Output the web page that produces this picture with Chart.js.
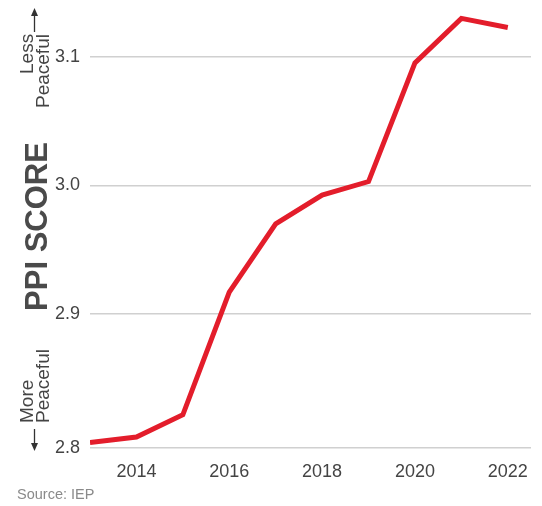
<!DOCTYPE html>
<html>
<head>
<meta charset="utf-8">
<script src="https://cdn.jsdelivr.net/npm/chart.js@4/dist/chart.umd.min.js"></script>
<style>
  html, body { margin: 0; padding: 0; background: #fff; }
  body { width: 542px; height: 506px; position: relative; overflow: hidden;
         font-family: "Liberation Sans", Arial, sans-serif; }
  #wrap { position: absolute; left: 0; top: 0; width: 542px; height: 506px; }
  .side { position: absolute; left: 19px; width: 31px; font-size: 19px; line-height: 15.5px;
          color: #444; writing-mode: vertical-rl; transform: rotate(180deg); white-space: nowrap; }
  #less { top: 34px; height: 95px; text-align: end; }
  #more { top: 328px; height: 95px; text-align: start; }
  #source { position: absolute; left: 17px; top: 486px; font-size: 14.5px; color: #8a8a8a; }
  #arrows { position: absolute; left: 0; top: 0; }
</style>
</head>
<body>
<div id="wrap"><canvas id="chart" width="542" height="506"></canvas></div>
<div class="side" id="less">Less<br>Peaceful</div>
<div class="side" id="more">More<br>Peaceful</div>
<svg id="arrows" width="60" height="506">
  <line x1="34.5" y1="32" x2="34.5" y2="14" stroke="#333" stroke-width="1.3"/>
  <polygon points="34.5,8 31,16 38,16" fill="#333"/>
  <line x1="34.5" y1="429" x2="34.5" y2="445" stroke="#333" stroke-width="1.3"/>
  <polygon points="34.5,451 31,443 38,443" fill="#333"/>
</svg>
<div id="source">Source: IEP</div>
<script>
// PPI score by year
var years = [2013, 2014, 2015, 2016, 2017, 2018, 2019, 2020, 2021, 2022];
var ppiScore = [2.7995, 2.8037, 2.8211, 2.9168, 2.9700, 2.9925, 3.0030, 3.0955, 3.1303, 3.1232];
var yTickValues = [2.9, 3.0, 3.1];
var xTickYears = [2014, 2016, 2018, 2020, 2022];

var Y_MIN = 2.7952, Y_MAX = 3.1407;

var points = years.map(function (yr, i) { return { x: yr, y: ppiScore[i] }; });

var ctx = document.getElementById('chart').getContext('2d');
var chart = new Chart(ctx, {
    type: 'line',
    data: {
        datasets: [{
            data: points,
            borderColor: '#e31d2b',
            borderWidth: 5,
            pointRadius: 0,
            tension: 0,
            fill: false,
            borderJoinStyle: 'miter',
            borderCapStyle: 'butt'
        }]
    },
    options: {
        responsive: false,
        animation: false,
        devicePixelRatio: 1,
        layout: { padding: { left: 0, right: 11, top: 5, bottom: 0 } },
        plugins: { legend: { display: false }, tooltip: { enabled: false } },
        scales: {
            x: {
                type: 'linear',
                min: 2013,
                max: 2022.5,
                afterBuildTicks: function (s) {
                    s.ticks = xTickYears.map(function (v) { return { value: v }; });
                },
                afterFit: function (s) {
                    s.height = 58;
                    s.paddingLeft = 0; s.paddingRight = 0;
                },
                grid: { display: false, drawTicks: false },
                border: { display: false },
                ticks: {
                    padding: 13,
                    color: '#444',
                    font: { family: '"Liberation Sans", Arial, sans-serif', size: 18 },
                    callback: function (v) { return String(v); },
                    maxRotation: 0,
                    autoSkip: false
                }
            },
            y: {
                min: Y_MIN,
                max: Y_MAX,
                afterBuildTicks: function (s) {
                    s.ticks = [{ value: Y_MIN }].concat(yTickValues.map(function (v) { return { value: v }; }));
                },
                afterFit: function (s) {
                    s.width = 90;
                    s.paddingTop = 0; s.paddingBottom = 0;
                },
                grid: { color: '#d0d0d0', lineWidth: 1.5, drawTicks: false },
                border: { display: false },
                ticks: {
                    padding: 10,
                    color: '#444',
                    font: { family: '"Liberation Sans", Arial, sans-serif', size: 18 },
                    callback: function (v) { return Number(v).toFixed(1); }
                },
                title: {
                    display: true,
                    text: 'PPI SCORE',
                    color: '#4a4a4a',
                    font: { family: '"Liberation Sans", Arial, sans-serif', size: 31, weight: 'bold', lineHeight: 1 },
                    padding: { top: 23, bottom: 1 }
                }
            }
        }
    }
});
</script>
</body>
</html>
